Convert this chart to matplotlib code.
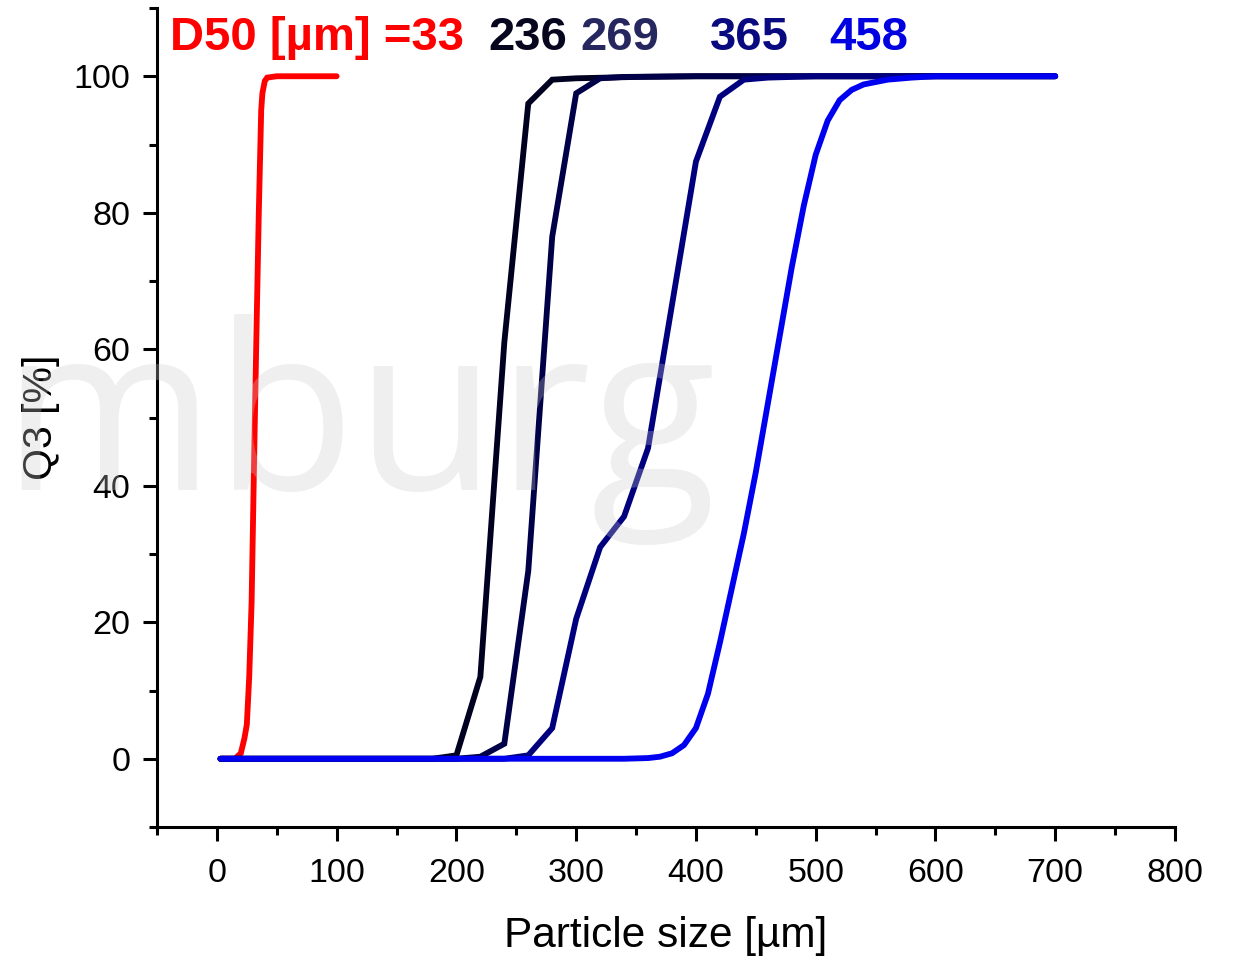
import matplotlib
matplotlib.use("Agg")
import matplotlib.pyplot as plt
from matplotlib.ticker import MultipleLocator

# cumulative distributions Q3 [%] vs particle size [um]
x_33 = [3, 15, 20, 23, 25, 27, 29, 31, 33, 35, 37, 38, 40, 42, 50, 100]
q_33 = [0, 0, 0.8, 3, 5, 12, 23, 43, 62, 80, 95, 97.5, 99.3, 99.8, 100, 100]

x_236 = [3, 180, 200, 220, 240, 260, 280, 300, 350, 400, 500, 600, 700]
q_236 = [0, 0, 0.5, 12, 61, 96, 99.5, 99.7, 99.9, 100, 100, 100, 100]

x_269 = [3, 200, 220, 240, 260, 280, 300, 320, 340, 400, 500, 600, 700]
q_269 = [0, 0, 0.3, 2.2, 27.5, 76.5, 97.5, 99.7, 99.9, 100, 100, 100, 100]

x_365 = [3, 240, 260, 280, 300, 320, 340, 360, 380, 400, 420, 440, 460, 500, 600, 700]
q_365 = [0, 0, 0.5, 4.5, 20.5, 31, 35.5, 45.5, 66.5, 87.5, 97, 99.5, 99.8, 100, 100, 100]

x_458 = [3, 340, 360, 370, 380, 390, 400, 410, 420, 430, 440, 450, 460, 470, 480,
         490, 500, 510, 520, 530, 540, 560, 580, 600, 700]
q_458 = [0, 0, 0.1, 0.3, 0.8, 2, 4.5, 9.5, 17, 25, 33, 42, 52, 62, 72,
         81, 88.5, 93.5, 96.5, 98, 98.8, 99.5, 99.8, 100, 100]

series = [
    (x_33, q_33, '#ff0000'),
    (x_236, q_236, '#000020'),
    (x_269, q_269, '#000048'),
    (x_365, q_365, '#00007f'),
    (x_458, q_458, '#0000f0'),
]

d50_labels = ['D50 [µm] =33', '236', '269', '365', '458']
label_colors = ['#ff0000', '#06061e', '#27275f', '#0a0a80', '#0000e0']
label_x = [170, 488, 580, 710, 829]  # pixel positions of label left edges

plt.rcParams['font.family'] = ['Liberation Sans', 'DejaVu Sans']

fig = plt.figure(figsize=(12.35, 9.57), dpi=100)
ax = fig.add_axes([157 / 1235, 1 - 827 / 957, (1175 - 157) / 1235, (827 - 8) / 957])

for xs, qs, c in series:
    ax.plot(xs, qs, color=c, lw=4.2, solid_capstyle='round', solid_joinstyle='miter')

ax.set_xlim(-50, 800)
ax.set_ylim(-10, 110)
ax.xaxis.set_minor_locator(MultipleLocator(50))
ax.yaxis.set_minor_locator(MultipleLocator(10))
ax.set_xticks(range(0, 801, 100))
ax.set_yticks(range(0, 101, 20))

for side in ['top', 'right']:
    ax.spines[side].set_visible(False)
for side in ['left', 'bottom']:
    ax.spines[side].set_linewidth(2.2)

ax.tick_params(which='major', length=10, width=2.2, labelsize=24.5)
ax.tick_params(axis='x', which='major', pad=12)
ax.tick_params(axis='y', which='major', pad=9)
ax.tick_params(which='minor', length=5.5, width=2.2)

ax.set_xlabel('Particle size [µm]', fontsize=30.5, labelpad=20)
ax.set_ylabel('Q3 [%]', fontsize=29.5, labelpad=10)

for txt, col, px in zip(d50_labels, label_colors, label_x):
    fig.text(px / 1235, 1 - 50 / 957, txt, color=col, fontsize=34, fontweight='bold',
             ha='left', va='baseline')

# watermark on top of everything
fig.text(1 / 1235, 1 - 490 / 957, 'mburg', family='Open Sans', fontsize=166,
         color='#cacaca', alpha=0.3, ha='left', va='baseline', zorder=10)

fig.savefig('out.png', dpi=100)
